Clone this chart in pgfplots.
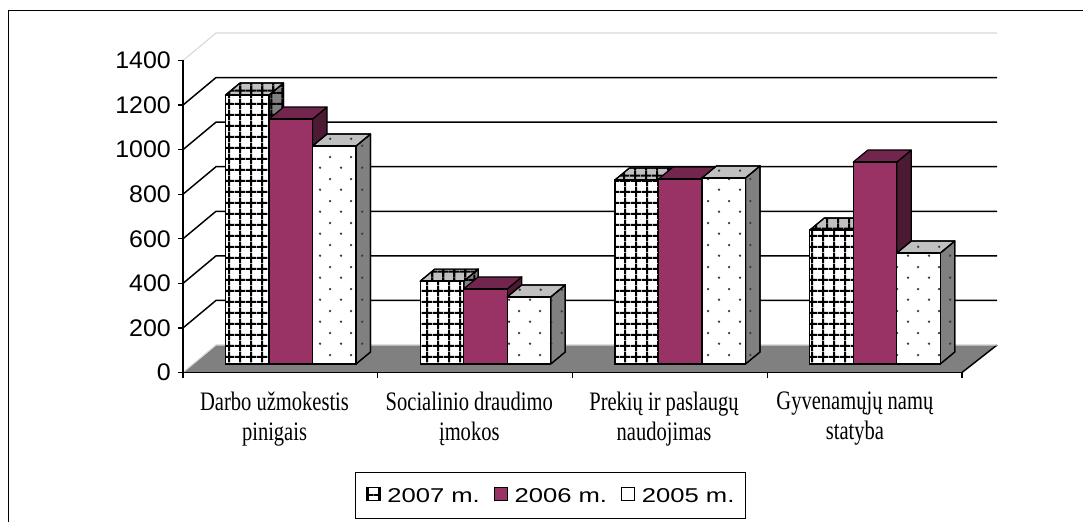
\documentclass[border=0pt]{standalone}
\usepackage{fontspec}
\setmainfont{Liberation Sans}
\newfontfamily\tickfont[FakeStretch=1.04]{Liberation Sans}
\newfontfamily\legfont[FakeStretch=1.28]{Liberation Sans}
\newfontfamily\catfont[FakeStretch=0.77]{Liberation Serif}
\usepackage{pgfplots}
\pgfplotsset{compat=1.18}
\usetikzlibrary{patterns}
\pgfdeclarepatternformonly{biggrid}{\pgfqpoint{0pt}{0pt}}{\pgfqpoint{8pt}{8pt}}{\pgfqpoint{8pt}{8pt}}{%
  \pgfsetlinewidth{1.6pt}%
  \pgfpathmoveto{\pgfqpoint{0pt}{4pt}}\pgfpathlineto{\pgfqpoint{8pt}{4pt}}%
  \pgfpathmoveto{\pgfqpoint{4pt}{0pt}}\pgfpathlineto{\pgfqpoint{4pt}{8pt}}%
  \pgfusepath{stroke}}
\pgfdeclarepatternformonly{sdots}{\pgfqpoint{0pt}{0pt}}{\pgfqpoint{15.75pt}{16.2pt}}{\pgfqpoint{15.75pt}{16.2pt}}{%
  \pgfpathcircle{\pgfqpoint{3.94pt}{4.05pt}}{1pt}%
  \pgfpathcircle{\pgfqpoint{11.81pt}{12.15pt}}{1pt}%
  \pgfusepath{fill}}
\definecolor{plum}{RGB}{153,51,102}
\definecolor{plumtop}{RGB}{115,38,77}
\definecolor{plumside}{RGB}{77,26,51}
\definecolor{ltgray}{RGB}{192,192,192}
\definecolor{mdgray}{RGB}{128,128,128}
\definecolor{wallline}{RGB}{215,215,215}
\definecolor{dotcol}{RGB}{60,60,60}
\begin{document}
\begin{tikzpicture}
\begin{axis}[
  scale only axis, width=584.25pt, height=234pt,
  xmin=0, xmax=4, ymin=0, ymax=1400,
  clip=false, axis on top,
  axis x line*=bottom, axis y line*=left,
  axis line style={black, line width=1.1pt},
  tick align=outside, major tick length=4.1pt,
  tick style={black, line width=1pt},
  xtick={0,1,2,3,4}, xticklabels={},
  extra x ticks={0.47,1.47,2.47,3.45},
  extra x tick labels={{Darbo užmokestis\\pinigais},{Socialinio draudimo\\įmokos},{Prekių ir paslaugų\\naudojimas},{Gyvenamųjų namų\\statyba}},
  extra x tick style={major tick length=0pt, xticklabel style={align=center, yshift=-11pt, font=\catfont\fontsize{20}{22.5}\selectfont}},
  ytick={0,200,...,1400},
  yticklabel style={xshift=-1.5pt, font=\tickfont\fontsize{18}{20}\selectfont, /pgf/number format/assume math mode=true},
  /pgf/number format/1000 sep={},
  legend columns=3,
  legend cell align=left,
  legend style={at={(axis cs:1.887,-551.9)}, anchor=center, draw=black, line width=1pt,
    font=\legfont\fontsize{15}{17}\selectfont,
    nodes={inner sep=0pt},
    /tikz/every odd column/.append style={column sep=5pt},
    /tikz/every even column/.append style={column sep=10.5pt},
    inner xsep=8.5pt, inner ysep=10.8pt},
  face/.style={forget plot, yshift=6.375pt, draw=black, line width=0.9pt, line join=round},
]
% floor
\addplot[forget plot, fill=mdgray, draw=none] coordinates {(0,0) (4,0) (4.18,123.4) (0.1695,123.4)} -- cycle;
\addplot[forget plot, black, line width=1.1pt] coordinates {(4,0) (4.18,123.4)};
\addplot[forget plot, wallline, line width=0.8pt] coordinates {(0,0) (0.1695,123.4) (4.18,123.4)};
% walls gridlines
\addplot[forget plot, wallline, line width=0.8pt] coordinates {(0,1400) (0.1695,1523.4) (4.18,1523.4)};
\addplot[forget plot, black, line width=1.1pt] coordinates {(0,200) (0.1695,323.4) (4.18,323.4)};
\addplot[forget plot, black, line width=1.1pt] coordinates {(0,400) (0.1695,523.4) (4.18,523.4)};
\addplot[forget plot, black, line width=1.1pt] coordinates {(0,600) (0.1695,723.4) (4.18,723.4)};
\addplot[forget plot, black, line width=1.1pt] coordinates {(0,800) (0.1695,923.4) (4.18,923.4)};
\addplot[forget plot, black, line width=1.1pt] coordinates {(0,1000) (0.1695,1123.4) (4.18,1123.4)};
\addplot[forget plot, black, line width=1.1pt] coordinates {(0,1200) (0.1695,1323.4) (4.18,1323.4)};
% outer border
\addplot[forget plot, black, line width=1.1pt] coordinates {(-0.895,-900) (-0.895,1624.3) (5,1624.3)};

% ---- 2007 ----
\addplot[face, fill=mdgray, postaction={pattern=biggrid}] coordinates {(0.4416,0) (0.4416,1207) (0.5161,1260.8) (0.5161,53.8)} -- cycle;
\addplot[face, fill=ltgray, postaction={pattern=biggrid}] coordinates {(0.2182,1207) (0.4416,1207) (0.5161,1260.8) (0.2927,1260.8)} -- cycle;
\addplot[face, fill=mdgray, postaction={pattern=biggrid}] coordinates {(1.4416,0) (1.4416,372) (1.5161,425.8) (1.5161,53.8)} -- cycle;
\addplot[face, fill=ltgray, postaction={pattern=biggrid}] coordinates {(1.2182,372) (1.4416,372) (1.5161,425.8) (1.2927,425.8)} -- cycle;
\addplot[face, fill=mdgray, postaction={pattern=biggrid}] coordinates {(2.4416,0) (2.4416,826) (2.5161,879.8) (2.5161,53.8)} -- cycle;
\addplot[face, fill=ltgray, postaction={pattern=biggrid}] coordinates {(2.2182,826) (2.4416,826) (2.5161,879.8) (2.2927,879.8)} -- cycle;
\addplot[face, fill=mdgray, postaction={pattern=biggrid}] coordinates {(3.4416,0) (3.4416,601) (3.5161,654.8) (3.5161,53.8)} -- cycle;
\addplot[face, fill=ltgray, postaction={pattern=biggrid}] coordinates {(3.2182,601) (3.4416,601) (3.5161,654.8) (3.2927,654.8)} -- cycle;
\addplot[ybar, bar width=32.625pt, bar shift=0pt, yshift=6.375pt, preaction={fill=white}, pattern=biggrid, draw=black, line width=1pt,
  legend image code/.code={\draw[preaction={fill=white}, pattern=biggrid, draw=black, line width=0.8pt] (0pt,-9.7pt) rectangle (9.8pt,0.1pt);}]
  coordinates {(0.3299,1207) (1.3299,372) (2.3299,826) (3.3299,601)};
\addlegendentry{2007 m.}

% ---- 2006 ----
\addplot[face, fill=plumside] coordinates {(0.6650,0) (0.6650,1099) (0.7395,1152.8) (0.7395,53.8)} -- cycle;
\addplot[face, fill=plumtop] coordinates {(0.4416,1099) (0.6650,1099) (0.7395,1152.8) (0.5161,1152.8)} -- cycle;
\addplot[face, fill=plumside] coordinates {(1.6650,0) (1.6650,337) (1.7395,390.8) (1.7395,53.8)} -- cycle;
\addplot[face, fill=plumtop] coordinates {(1.4416,337) (1.6650,337) (1.7395,390.8) (1.5161,390.8)} -- cycle;
\addplot[face, fill=plumside] coordinates {(2.6650,0) (2.6650,830) (2.7395,883.8) (2.7395,53.8)} -- cycle;
\addplot[face, fill=plumtop] coordinates {(2.4416,830) (2.6650,830) (2.7395,883.8) (2.5161,883.8)} -- cycle;
\addplot[face, fill=plumside] coordinates {(3.6650,0) (3.6650,906) (3.7395,959.8) (3.7395,53.8)} -- cycle;
\addplot[face, fill=plumtop] coordinates {(3.4416,906) (3.6650,906) (3.7395,959.8) (3.5161,959.8)} -- cycle;
\addplot[ybar, bar width=32.625pt, bar shift=0pt, yshift=6.375pt, fill=plum, draw=black, line width=1pt,
  legend image code/.code={\draw[fill=plum, draw=black, line width=0.8pt] (0pt,-9.7pt) rectangle (9.8pt,0.1pt);}]
  coordinates {(0.5533,1099) (1.5533,337) (2.5533,830) (3.5533,906)};
\addlegendentry{2006 m.}

% ---- 2005 ----
\addplot[face, fill=mdgray, postaction={pattern=sdots, pattern color=dotcol}] coordinates {(0.8884,0) (0.8884,978) (0.9629,1031.8) (0.9629,53.8)} -- cycle;
\addplot[face, fill=ltgray, postaction={pattern=sdots, pattern color=dotcol}] coordinates {(0.6650,978) (0.8884,978) (0.9629,1031.8) (0.7395,1031.8)} -- cycle;
\addplot[face, fill=mdgray, postaction={pattern=sdots, pattern color=dotcol}] coordinates {(1.8884,0) (1.8884,301) (1.9629,354.8) (1.9629,53.8)} -- cycle;
\addplot[face, fill=ltgray, postaction={pattern=sdots, pattern color=dotcol}] coordinates {(1.6650,301) (1.8884,301) (1.9629,354.8) (1.7395,354.8)} -- cycle;
\addplot[face, fill=mdgray, postaction={pattern=sdots, pattern color=dotcol}] coordinates {(2.8884,0) (2.8884,835) (2.9629,888.8) (2.9629,53.8)} -- cycle;
\addplot[face, fill=ltgray, postaction={pattern=sdots, pattern color=dotcol}] coordinates {(2.6650,835) (2.8884,835) (2.9629,888.8) (2.7395,888.8)} -- cycle;
\addplot[face, fill=mdgray, postaction={pattern=sdots, pattern color=dotcol}] coordinates {(3.8884,0) (3.8884,498) (3.9629,551.8) (3.9629,53.8)} -- cycle;
\addplot[face, fill=ltgray, postaction={pattern=sdots, pattern color=dotcol}] coordinates {(3.6650,498) (3.8884,498) (3.9629,551.8) (3.7395,551.8)} -- cycle;
\addplot[ybar, bar width=32.625pt, bar shift=0pt, yshift=6.375pt, preaction={fill=white}, pattern=sdots, pattern color=dotcol, draw=black, line width=1pt,
  legend image code/.code={\draw[preaction={fill=white}, pattern=sdots, pattern color=dotcol, draw=black, line width=0.8pt] (0pt,-9.7pt) rectangle (9.8pt,0.1pt);}]
  coordinates {(0.7767,978) (1.7767,301) (2.7767,835) (3.7767,498)};
\addlegendentry{2005 m.}

\coordinate (bl) at (axis cs:-0.93967,-670.83);
\coordinate (tr) at (axis cs:4.62131,1671.47);
\end{axis}
\pgfresetboundingbox
\useasboundingbox (bl) rectangle (tr);
\end{tikzpicture}
\end{document}
